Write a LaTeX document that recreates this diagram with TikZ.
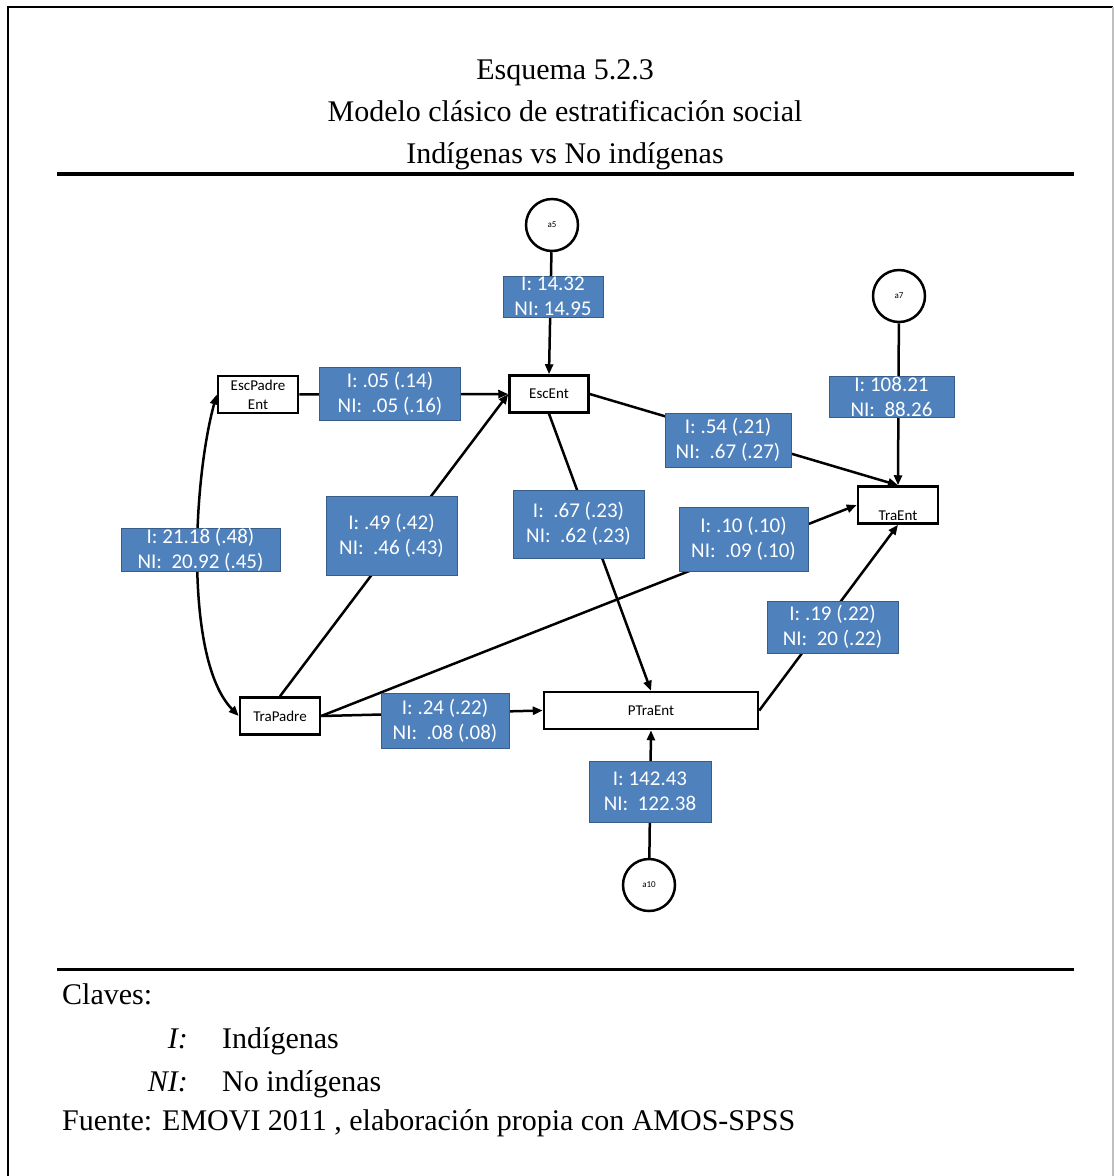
\documentclass[tikz,border=0pt]{standalone}
\usepackage{fontspec}
\setmainfont{Liberation Serif}
\newfontfamily\calib{Carlito}
\usetikzlibrary{arrows.meta}
\definecolor{boxblue}{RGB}{79,129,189}
\definecolor{boxedge}{RGB}{56,93,138}

\begin{document}
\begin{tikzpicture}[x=1pt,y=-1pt,
  var/.style={rectangle, draw=black, line width=2.5pt, fill=white, inner sep=0pt,
              align=center, font=\calib\fontsize{15}{19}\selectfont},
  err/.style={circle, draw=black, line width=2.5pt, fill=white, minimum size=52pt,
              inner sep=0pt, font=\calib\fontsize{9}{10}\selectfont},
  coef/.style={rectangle, draw=boxedge, line width=1pt, fill=boxblue, text=white,
               inner sep=0pt, align=center, font=\calib\fontsize{21}{25}\selectfont},
  arrowline/.style={line width=2.5pt, -{Triangle[length=10pt,width=8pt]}},
  twoway/.style={line width=2.5pt, {Triangle[length=10pt,width=8pt]}-{Triangle[length=10pt,width=8pt]}},
  serif/.style={inner sep=0pt, font=\fontsize{30}{36}\selectfont},
]
% page area
\useasboundingbox (0,0) rectangle (1114,1176);
\fill[white] (0,0) rectangle (1114,1176);

% frame
\draw[line width=2pt] (8,1176) -- (8,7) -- (1113,7);
\draw[line width=1.5pt, black!25] (1113,7) -- (1113,1176);

% heading
\node[serif, anchor=base] (t1) at (565,79) {Esquema 5.2.3};
\node[serif, anchor=base] (t2) at (565,121) {Modelo clásico de estratificación social};
\node[serif, anchor=base] (t3) at (565,163) {Indígenas vs No indígenas};
\draw[line width=3.5pt] (57,174) -- (1074,174);

% observed variables
\node[var, minimum width=80pt, minimum height=37pt] (ep) at (258,394.5) {EscPadre\\Ent};
\node[var, minimum width=79pt, minimum height=37pt] (ee) at (549,394) {EscEnt};
\node[var, minimum width=80pt, minimum height=37pt, text height=30pt, text depth=0pt] (te) at (898,505) {TraEnt};
\node[var, minimum width=80pt, minimum height=37pt] (tp) at (280,716) {TraPadre};
\node[var, minimum width=214pt, minimum height=37pt] (pt) at (651,710.5) {PTraEnt};

% error terms
\node[err] (a5) at (552,225) {a5};
\node[err] (a7) at (899,296) {a7};
\node[err] (a10) at (649,885) {a10};

% paths
\draw[arrowline] (a5) -- (ee.north);
\draw[arrowline] (ep) -- (ee);
\draw[arrowline] (ee.east) -- (te.north);
\draw[arrowline] (a7) -- (te.north);
\draw[arrowline] (tp.north) -- (ee.west);
\draw[arrowline] (ee.south) -- (pt.north);
\draw[arrowline] (tp.east) -- (te.west);
\draw[arrowline] (tp.east) -- (pt.west);
\draw[arrowline] (pt.east) -- (te.south);
\draw[arrowline] (a10) -- (pt.south);
\draw[twoway] (ep.west) .. controls (193,480) and (184,660) .. (tp.west);

% coefficients
\node[coef, minimum width=100pt, minimum height=41pt] (c1) at (553,296.5) {I: 14.32\\NI: 14.95};
\node[coef, minimum width=141pt, minimum height=53pt] (c2) at (390,394) {I: .05 (.14)\\NI:\ \ .05 (.16)};
\node[coef, minimum width=126pt, minimum height=54pt] (c3) at (728,440) {I: .54 (.21)\\NI:\ \ .67 (.27)};
\node[coef, minimum width=125pt, minimum height=41pt] (c4) at (891.5,396.5) {I: 108.21\\NI:\ \ 88.26};
\node[coef, minimum width=159pt, minimum height=42pt] (c5) at (200.5,550) {I: 21.18 (.48)\\NI:\ \ 20.92 (.45)};
\node[coef, minimum width=131pt, minimum height=79pt] (c6) at (391.5,535.5) {I: .49 (.42)\\NI:\ \ .46 (.43)};
\node[coef, minimum width=131pt, minimum height=68pt] (c7) at (578.5,524) {I:\ \ .67 (.23)\\NI:\ \ .62 (.23)};
\node[coef, minimum width=129pt, minimum height=64pt] (c8) at (743.5,539) {I: .10 (.10)\\NI:\ \ .09 (.10)};
\node[coef, minimum width=131pt, minimum height=52pt] (c9) at (832.5,627) {I: .19 (.22)\\NI:\ \ 20 (.22)};
\node[coef, minimum width=128pt, minimum height=55pt] (c10) at (445,720.5) {I: .24 (.22)\\NI:\ \ .08 (.08)};
\node[coef, minimum width=122pt, minimum height=61pt] (c11) at (650,791.5) {I: 142.43\\NI:\ \ 122.38};

% notes
\draw[line width=3pt] (57,969) -- (1074,969);
\node[serif, anchor=base west] (claves) at (62,1004) {Claves:};
\node[serif, anchor=base east] (ki) at (188,1048) {\textit{I:}};
\node[serif, anchor=base west] (kitxt) at (222,1048) {Indígenas};
\node[serif, anchor=base east] (kni) at (188,1091) {\textit{NI:}};
\node[serif, anchor=base west] (knitxt) at (222,1091) {No indígenas};
\node[serif, anchor=base west] (fuente) at (62,1130) {Fuente: EMOVI 2011 , elaboración propia con AMOS-SPSS};
\end{tikzpicture}
\end{document}
